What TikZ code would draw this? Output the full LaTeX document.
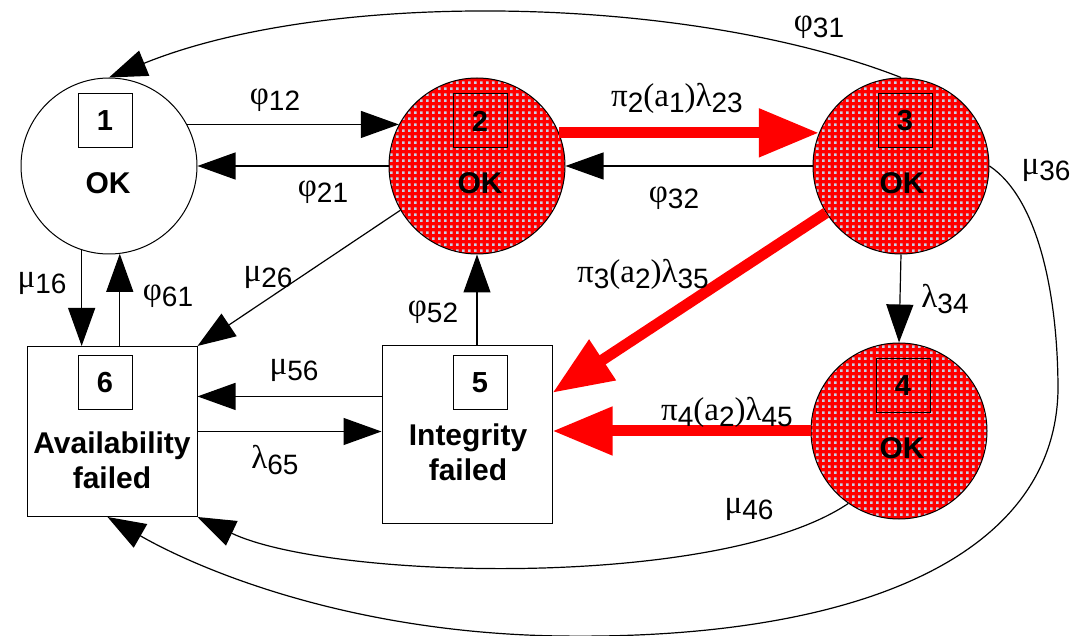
\documentclass[tikz,border=0pt]{standalone}
\usepackage{fontspec}
\setmainfont{Liberation Sans}
\newfontfamily\grk{Liberation Serif}
\usetikzlibrary{arrows.meta,patterns}

\definecolor{dotblue}{RGB}{198,208,230}
\pgfdeclarepatternformonly{okdots}{\pgfqpoint{0pt}{0pt}}{\pgfqpoint{6pt}{6pt}}{\pgfqpoint{6pt}{6pt}}%
  {\pgfpathrectangle{\pgfqpoint{0pt}{0pt}}{\pgfqpoint{3pt}{3pt}}\pgfusepath{fill}}

\newcommand{\gr}[1]{{\grk\fontsize{33}{35}\selectfont #1}}
\newcommand{\sub}[1]{\raisebox{-6pt}{#1}}

\tikzset{
  stcircle/.style={circle, draw, line width=1pt, minimum size=176pt, inner sep=0pt},
  okcircle/.style={stcircle, preaction={fill=red}, pattern=okdots, pattern color=dotblue},
  failbox/.style={draw, line width=1pt, minimum width=170pt, minimum height=170pt, inner sep=0pt},
  numbox/.style={draw, line width=1pt, minimum size=54pt, inner sep=0pt, font=\fontsize{29}{30}\selectfont\bfseries},
  sttext/.style={font=\fontsize{30}{35}\selectfont\bfseries, align=center, inner sep=0pt},
  ratelbl/.style={font=\fontsize{28}{30}\selectfont, inner sep=0pt},
  trans/.style={line width=1.2pt, -{Triangle[length=38pt,width=27pt]}},
  redtrans/.style={red, line width=11pt, -{Triangle[length=60pt,width=46pt]}}
}

\begin{document}
\begin{tikzpicture}[x=1pt, y=-1pt]
\useasboundingbox (0,0) rectangle (1072,636);

% states
\node[stcircle] (s1) at (109,166) {};
\node[okcircle] (s2) at (477,166) {};
\node[okcircle] (s3) at (901,166) {};
\node[okcircle] (s4) at (899,431) {};
\node[failbox] (s6) at (112,431.5) {};
\node[failbox, minimum height=177pt] (s5) at (467,434.5) {};

\node[numbox] (n1) at (105,121) {1};
\node[numbox] (n2) at (480,121) {2};
\node[numbox] (n3) at (905,121) {3};
\node[numbox] (n4) at (903,386) {4};
\node[numbox] (n5) at (480,383) {5};
\node[numbox] (n6) at (105,383) {6};

\node[sttext] (t1) at (108,183) {OK};
\node[sttext] (t2) at (480,183) {OK};
\node[sttext] (t3) at (902,183) {OK};
\node[sttext] (t4) at (902,448) {OK};
\node[sttext] (t6) at (112,460) {Availability\\failed};
\node[sttext] (t5) at (468,452) {Integrity\\failed};

% transitions
\draw[trans] (s1.28) -- (s2.152);
\draw[trans] (s2.180) -- (s1.0);
\draw[redtrans] (s2.22) -- (s3.158);
\draw[trans] (s3.180) -- (s2.0);
\draw[redtrans] (s3.212) -- (s5.26);
\draw[redtrans] (s4.west) -- (s4.west -| s5.east);
\draw[trans] (s3.south) -- (s4.north);
\draw[trans] (s5.north -| s2.south) -- (s2.south);
\draw[trans] (s5.156) -- (s5.156 -| s6.east);
\draw[trans] (s6.east) -- (s6.east -| s5.west);
\draw[trans] (s1.252) -- (s1.252 |- s6.north);
\draw[trans] (s1.277 |- s6.north) -- (s1.277);
\draw[trans] (s2.210) -- (s6.north east);
\draw[trans] (s3.north) .. controls (690,-5) and (330,-12) .. (s1.north);
\draw[trans] (s3.east) .. controls (1040,200) and (1058,300) .. (1058,390)
  .. controls (1055,560) and (850,640) .. (560,636)
  .. controls (350,633) and (200,570) .. (s6.267);
\draw[trans] (s4.235) .. controls (720,590) and (330,580) .. (s6.south east);

% rates
\node[ratelbl] (l12) at (275,100) {\gr{φ}\sub{12}};
\node[ratelbl] (l21) at (323,192) {\gr{φ}\sub{21}};
\node[ratelbl] (l23) at (677,98) {\gr{π}\sub{2}\gr{(a}\sub{1}\gr{)λ}\sub{23}};
\node[ratelbl] (l32) at (674,198) {\gr{φ}\sub{32}};
\node[ratelbl] (l35) at (643,274) {\gr{π}\sub{3}\gr{(a}\sub{2}\gr{)λ}\sub{35}};
\node[ratelbl] (l45) at (727,412) {\gr{π}\sub{4}\gr{(a}\sub{2}\gr{)λ}\sub{45}};
\node[ratelbl] (l16) at (42,283) {\gr{μ}\sub{16}};
\node[ratelbl] (l61) at (168,296) {\gr{φ}\sub{61}};
\node[ratelbl] (l26) at (268,277) {\gr{μ}\sub{26}};
\node[ratelbl] (l56) at (294,370) {\gr{μ}\sub{56}};
\node[ratelbl] (l65) at (275,460) {\gr{λ}\sub{65}};
\node[ratelbl] (l52) at (433,312) {\gr{φ}\sub{52}};
\node[ratelbl] (l34) at (945,299) {\gr{λ}\sub{34}};
\node[ratelbl] (l36) at (1046,170) {\gr{μ}\sub{36}};
\node[ratelbl] (l31) at (819,27) {\gr{φ}\sub{31}};
\node[ratelbl] (l46) at (749,509) {\gr{μ}\sub{46}};
\end{tikzpicture}
\end{document}
